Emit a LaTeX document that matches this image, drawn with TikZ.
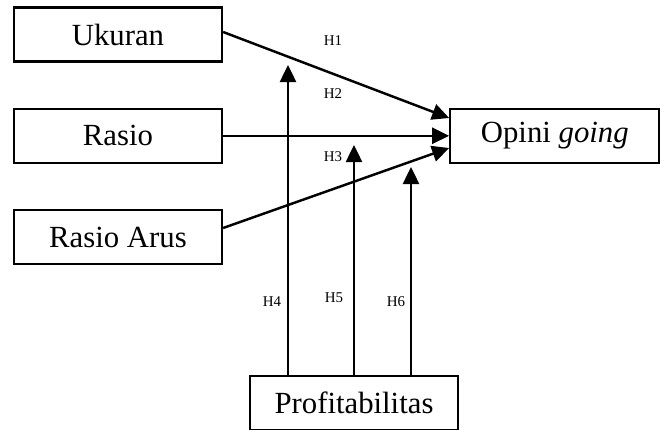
\documentclass[tikz,border=0pt]{standalone}
\usepackage{fontspec}
\setmainfont{Liberation Serif}
\usetikzlibrary{arrows.meta, positioning}
\tikzset{
  var/.style={
    rectangle, draw, line width=1.3pt, fill=white,
    text centered, minimum width=4.16cm, minimum height=1.08cm,
    font=\fontsize{17.5}{20}\selectfont
  },
  hyp/.style={
    inner sep=0pt, font=\fontsize{8.5}{10}\selectfont
  },
  arr/.style={-{Triangle[length=0.34cm, width=0.32cm]}, line width=1.4pt},
}

\begin{document}
\begin{tikzpicture}[node distance=0.9cm and 4.52cm]
  \useasboundingbox (0,0) rectangle (13.24,-8.6);

  % -- nodes ---------------------------------------------------------------
  \node[var] (ukuran) at (2.36,-0.69) {Ukuran};
  \node[var, below=of ukuran] (rasio)     {Rasio};
  \node[var, below=of rasio]  (rasioarus) {Rasio Arus};
  \node[var, right=of rasio, minimum width=4.18cm] (opini) {Opini \textit{going}};
  \node[var] (profit) at (7.08,-8.06) {Profitabilitas};

  % hypothesis labels
  \node[hyp] (h1) at (6.66,-0.82) {H1};
  \node[hyp] (h2) at (6.66,-1.88) {H2};
  \node[hyp] (h3) at (6.66,-3.14) {H3};
  \node[hyp] (h4) at (5.44,-6.04) {H4};
  \node[hyp] (h5) at (6.68,-5.96) {H5};
  \node[hyp] (h6) at (7.92,-6.04) {H6};

  % free ends of the moderating arrows
  \coordinate (t4) at (5.76,-1.30);
  \coordinate (t5) at (7.08,-2.90);
  \coordinate (t6) at (8.22,-3.34);

  % -- edges ---------------------------------------------------------------
  \draw[arr] (ukuran.east |- 0,-0.64) -- (opini.west |- 0,-2.36);
  \draw[arr] (rasio)     -- (opini);
  \draw[arr] (rasioarus.east |- 0,-4.56) -- (opini.west |- 0,-2.96);

  \draw[arr] (profit.north -| t4) -- (t4);
  \draw[arr] (profit.north -| t5) -- (t5);
  \draw[arr] (profit.north -| t6) -- (t6);

\end{tikzpicture}
\end{document}
